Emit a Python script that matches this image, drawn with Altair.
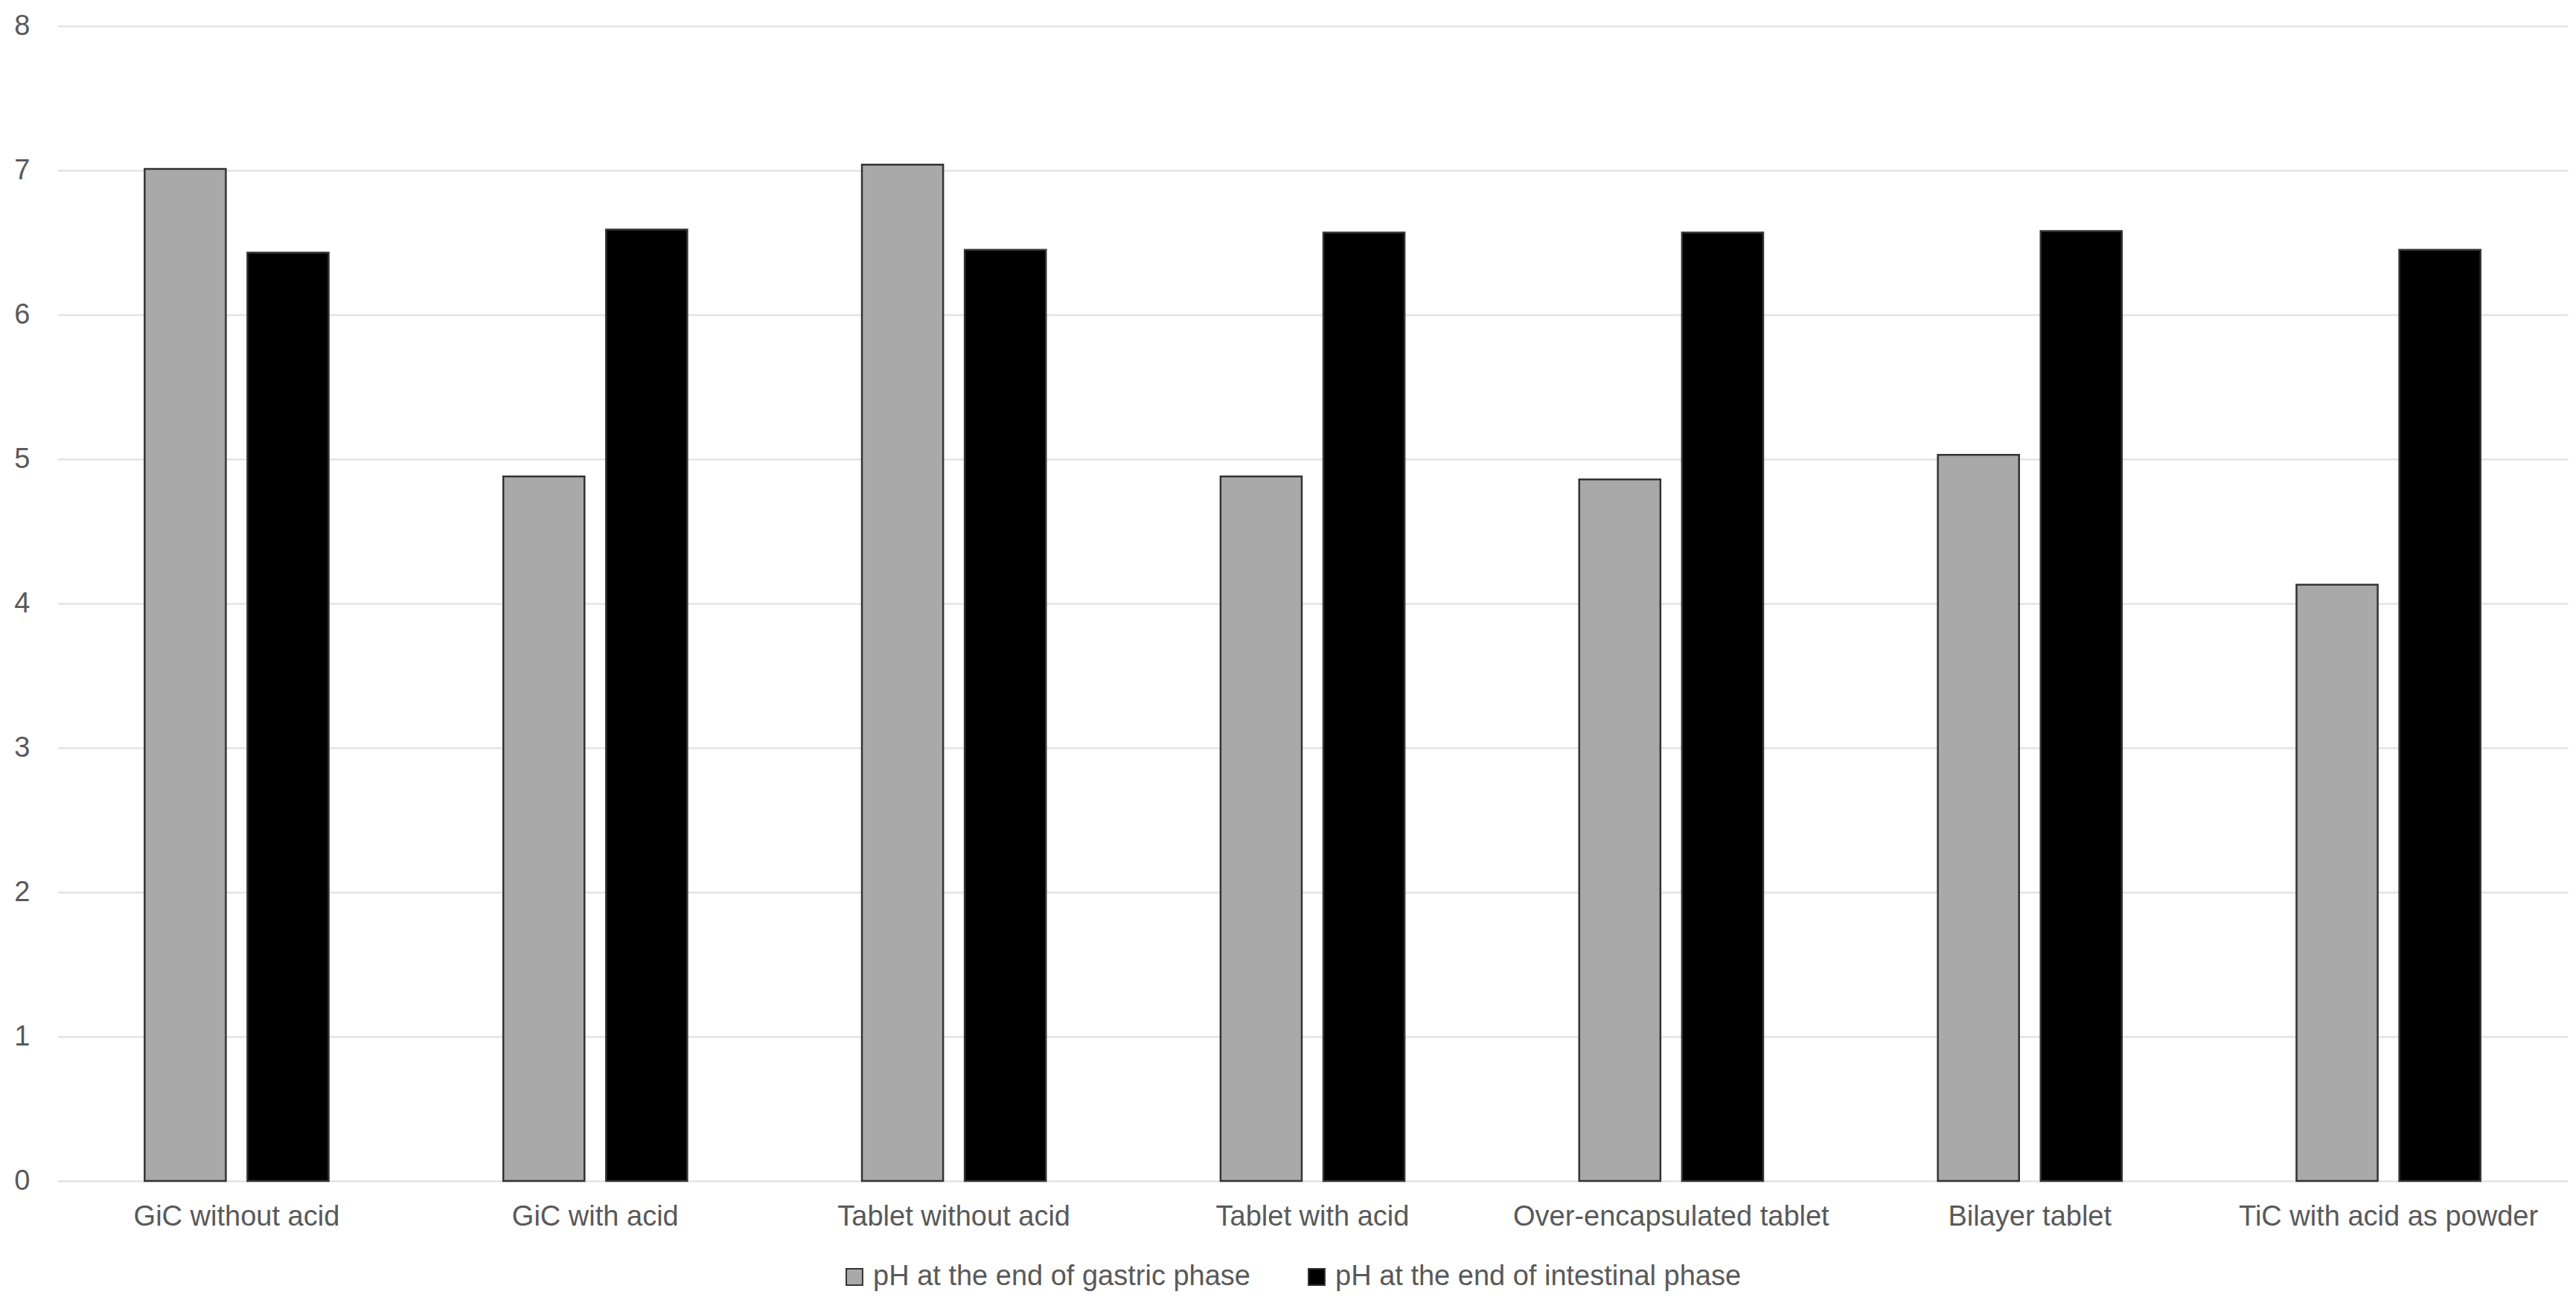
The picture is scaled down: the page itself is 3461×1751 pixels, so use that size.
import altair as alt
import pandas as pd

categories = ["GiC without acid", "GiC with acid", "Tablet without acid", "Tablet with acid",
              "Over-encapsulated tablet", "Bilayer tablet", "TiC with acid as powder"]
gastric = [7.01, 4.88, 7.04, 4.88, 4.86, 5.03, 4.13]
intestinal = [6.43, 6.59, 6.45, 6.57, 6.57, 6.58, 6.45]
series = ["pH at the end of gastric phase", "pH at the end of intestinal phase"]
colors = ["#A9A9A9", "#000000"]
y_ticks = [0, 1, 2, 3, 4, 5, 6, 7, 8]

rows = []
for c, g, i in zip(categories, gastric, intestinal):
    rows.append({"cat": c, "series": series[0], "value": g})
    rows.append({"cat": c, "series": series[1], "value": i})
df = pd.DataFrame(rows)

FONT = "Liberation Sans"
TXT = "#595959"
FS = 38

chart = alt.Chart(df).mark_bar(stroke="#333333", strokeWidth=2.5).encode(
    x=alt.X("cat:N", sort=categories, title=None,
            scale=alt.Scale(paddingInner=0.487, paddingOuter=0.2435),
            axis=alt.Axis(labelAngle=0, ticks=False, domain=False, grid=False,
                          labelFontSize=FS, labelColor=TXT, labelFont=FONT,
                          labelPadding=29, labelLimit=1000)),
    xOffset=alt.XOffset("series:N", sort=series,
                        scale=alt.Scale(paddingInner=0.21, paddingOuter=0)),
    y=alt.Y("value:Q", title=None,
            scale=alt.Scale(domain=[0, 8], nice=False),
            axis=alt.Axis(values=y_ticks, ticks=False, domain=False, grid=True,
                          gridColor="#E3E3E3", gridWidth=2.5,
                          labelFontSize=FS, labelColor=TXT, labelFont=FONT,
                          labelPadding=37)),
    color=alt.Color("series:N", sort=series,
                    scale=alt.Scale(domain=series, range=colors),
                    legend=alt.Legend(title=None, orient="none", direction="horizontal",
                                      legendX=1052, legendY=1662,
                                      symbolType="square", symbolSize=480,
                                      symbolStrokeColor="#333333", symbolStrokeWidth=2,
                                      labelFontSize=FS, labelColor=TXT, labelFont=FONT,
                                      columnPadding=70, labelLimit=1000, labelOffset=6)),
).properties(
    width=3373, height=1552,
    background="white",
    autosize=alt.AutoSizeParams(type="none"),
    padding={"left": 77, "top": 35, "right": 11, "bottom": 164},
).configure_view(stroke=None)

chart.save("out.html", embed_options={"renderer": "svg", "actions": False})
